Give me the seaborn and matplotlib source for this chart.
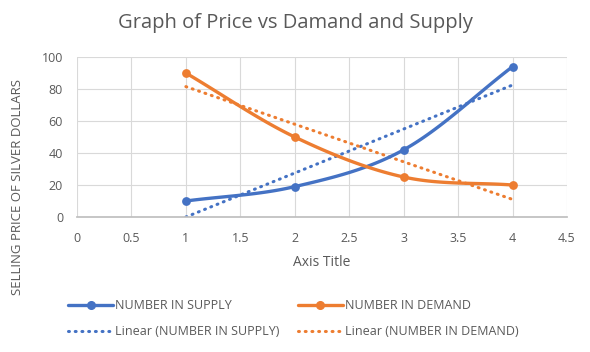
import numpy as np
import pandas as pd
import matplotlib
matplotlib.use("Agg")
import matplotlib.pyplot as plt
from matplotlib.lines import Line2D
import seaborn as sns

# data
x_vals = [1, 2, 3, 4]
supply = [10, 19, 42, 94]
demand = [90, 50, 25, 20]

x_ticks = [0, 0.5, 1, 1.5, 2, 2.5, 3, 3.5, 4, 4.5]
y_ticks = [0, 20, 40, 60, 80, 100]

BLUE = "#4472C4"
ORANGE = "#ED7D31"
GREY = "#595959"
DOTS = (0, (0.3, 1.9))

sns.set_theme(style="white")
plt.rcParams["font.family"] = ["Open Sans", "DejaVu Sans"]

df = pd.DataFrame({"x": x_vals, "supply": supply, "demand": demand})


def smooth(xs, ys, n=40):
    # catmull-rom curve through the points, like excel's smoothed line
    p = np.column_stack([xs, ys]).astype(float)
    p = np.vstack([2 * p[0] - p[1], p, 2 * p[-1] - p[-2]])
    out = []
    for i in range(1, len(p) - 2):
        p0, p1, p2, p3 = p[i - 1], p[i], p[i + 1], p[i + 2]
        t = np.linspace(0, 1, n)[:, None]
        c = 0.5 * ((2 * p1) + (-p0 + p2) * t + (2 * p0 - 5 * p1 + 4 * p2 - p3) * t ** 2
                   + (-p0 + 3 * p1 - 3 * p2 + p3) * t ** 3)
        out.append(c)
    c = np.vstack(out)
    return c[:, 0], c[:, 1]


fig = plt.figure(figsize=(5.9, 3.52), dpi=100)
ax = fig.add_axes([0.1305, 0.3835, 0.8305, 0.4545])

# linear trendlines
sns.regplot(data=df, x="x", y="supply", scatter=False, ci=None, ax=ax,
            line_kws=dict(color=BLUE, lw=2.2, ls=DOTS, dash_capstyle="round"))
sns.regplot(data=df, x="x", y="demand", scatter=False, ci=None, ax=ax,
            line_kws=dict(color=ORANGE, lw=2.2, ls=DOTS, dash_capstyle="round"))

# smoothed series
for col, color in [("supply", BLUE), ("demand", ORANGE)]:
    sx, sy = smooth(df["x"], df[col])
    ax.plot(sx, sy, color=color, lw=2.4, solid_capstyle="round")
    sns.scatterplot(data=df, x="x", y=col, color=color, s=40, edgecolor=color,
                    linewidth=0, ax=ax, zorder=5)

ax.set_xlim(0, 4.5)
ax.set_ylim(0, 100)
ax.set_xticks(x_ticks)
ax.set_xticklabels([f"{t:g}" for t in x_ticks])
ax.set_yticks(y_ticks)
ax.grid(True, color="#D9D9D9", lw=0.8)
ax.set_axisbelow(True)
for s in ["top", "right", "left"]:
    ax.spines[s].set_visible(False)
ax.spines["bottom"].set_color("#BFBFBF")
ax.tick_params(axis="both", colors=GREY, labelsize=9, length=0)
ax.tick_params(axis="x", pad=11)
ax.tick_params(axis="y", pad=10)
ax.set_xlabel("Axis Title", fontsize=10, color=GREY, labelpad=7)
ax.set_ylabel("")

fig.text(0.5, 0.935, "Graph of Price vs Damand and Supply", ha="center", va="center",
         fontsize=14.5, color=GREY)
fig.text(0.03, 0.47, "SELLING PRICE OF SILVER DOLLARS", rotation=90, ha="center",
         va="center", fontsize=9.5, color=GREY)

handles = [
    Line2D([], [], color=BLUE, lw=2.4, marker="o", ms=5.5),
    Line2D([], [], color=BLUE, lw=2.2, ls=DOTS, dash_capstyle="round"),
    Line2D([], [], color=ORANGE, lw=2.4, marker="o", ms=5.5),
    Line2D([], [], color=ORANGE, lw=2.2, ls=DOTS, dash_capstyle="round"),
]
labels = ["NUMBER IN SUPPLY", "Linear (NUMBER IN SUPPLY)",
          "NUMBER IN DEMAND", "Linear (NUMBER IN DEMAND)"]
leg = fig.legend(handles, labels, ncol=2, loc="center", bbox_to_anchor=(0.497, 0.094),
                 frameon=False, fontsize=9, handlelength=3.6, handletextpad=0.15,
                 columnspacing=1.45, labelspacing=1.05)
for t in leg.get_texts():
    t.set_color(GREY)

fig.savefig("out.png", dpi=100)
